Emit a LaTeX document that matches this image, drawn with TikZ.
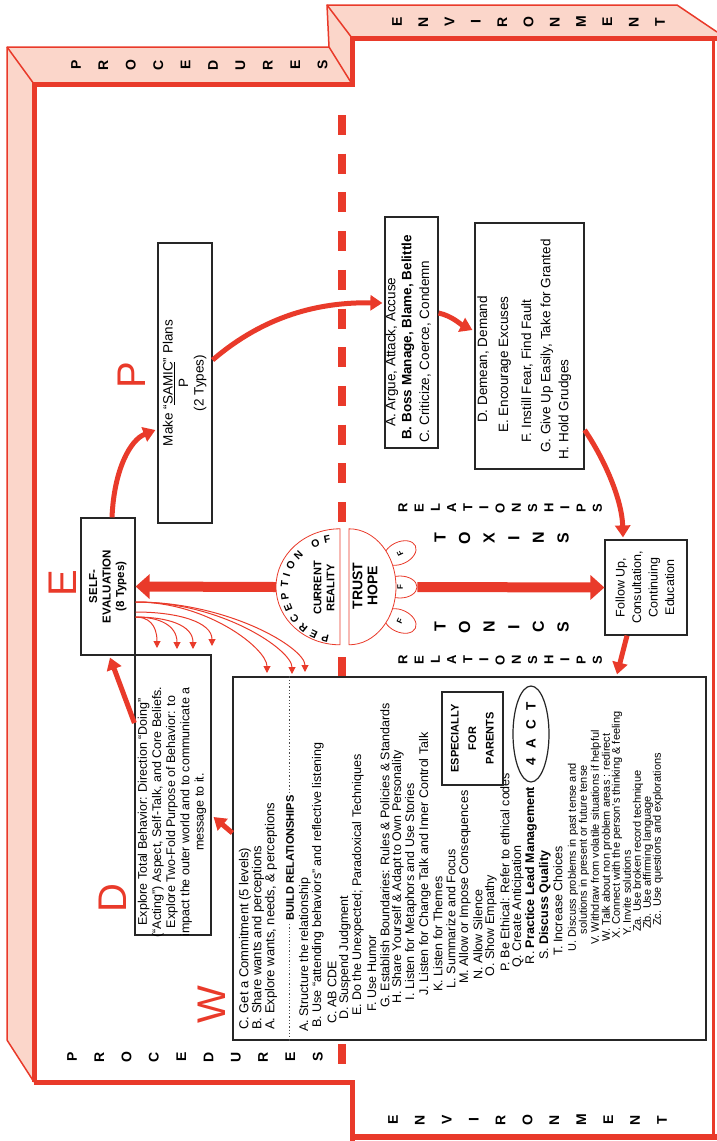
\documentclass[tikz,border=0pt]{standalone}
\usepackage{fontspec}
\usepackage{graphicx}
\setmainfont{Liberation Sans}
\usetikzlibrary{arrows.meta,calc,shapes.geometric,decorations.text}

\definecolor{wred}{RGB}{233,58,42}
\definecolor{wpink}{RGB}{251,214,202}

\def\letterrow[#1](#2:#3:#4:#5)#6{\foreach \l [count=\i from 0] in {#6} {\node[#1] (#2\i) at ({#3+\i*#5},#4) {\l};}}
\def\uptext#1{\rotatebox{90}{\begin{tabular}{@{}c@{}}#1\end{tabular}}}

\tikzset{
	box/.style={draw=black!85, line width=1.2pt, fill=white, inner sep=0pt},
	vtext/.style={rotate=90, inner sep=0pt, align=center},
	bigletter/.style={rotate=90, inner sep=0pt, text=wred, font=\fontsize{40}{40}\selectfont},
	framelabel/.style={rotate=90, inner sep=0pt, font=\bfseries\fontsize{14}{14}\selectfont},
	rellabel/.style={rotate=90, inner sep=0pt, font=\bfseries\fontsize{13}{13}\selectfont},
	toxlabel/.style={rotate=90, inner sep=0pt, font=\bfseries\fontsize{16}{16}\selectfont},
	ringarrow/.style={draw=wred, line width=5pt, -{Triangle[length=12pt,width=15pt]}},
	bigarrow/.style={draw=wred, line width=10pt, -{Triangle[length=14pt,width=24pt]}},
	fanarrow/.style={draw=wred, line width=1pt, -{Triangle[length=7pt,width=7pt]}},
	petal/.style={ellipse, draw=wred, line width=0.8pt, fill=white, minimum width=22pt, minimum height=34pt, inner sep=0pt, font=\bfseries\fontsize{8}{8}\selectfont},
	listline/.style={rotate=90, anchor=west, inner sep=0pt},
}

\begin{document}
\begin{tikzpicture}[x=1pt, y=-1pt]
	%%%%% START %%%%%
	\useasboundingbox (0,0) rectangle (717,1141);
	
	% frame
	\fill[wpink] (7,47) -- (329,47) -- (327,5) -- (677,5) -- (717,32) -- (717,38) -- (352,38) -- (352,84) -- (34,84) -- (34,1082) -- (7,1040) -- cycle;
	\draw[wred, line width=1.5pt, line join=round] (7,1040) -- (7,47) -- (329,47) -- (327,5) -- (677,5) -- (717,32);
	\draw[wred, line width=1.5pt] (7,47) -- (34,84);
	\draw[wred, line width=1.5pt] (329,47) -- (352,84);
	\draw[wred, line width=1.5pt] (327,5) -- (352,38);
	\draw[wred, line width=1.5pt] (7,1040) -- (34,1082);
	\draw[wred, line width=5pt] (34,1082) -- (34,84) -- (352,84) -- (352,38) -- (717,38);
	\draw[wred, line width=5pt] (34,1082) -- (352,1082) -- (352,1141);
	\draw[wred, line width=6pt] (352,1137) -- (717,1137);
	\draw[wred, line width=3pt] (713,38) -- (713,1137);
	
	\letterrow[framelabel](ptop:76:65:27.4){P,R,O,C,E,D,U,R,E,S}
	\letterrow[framelabel](pbot:72:1057:27.3){P,R,O,C,E,D,U,R,E,S}
	\letterrow[framelabel](etop:397:22:26.3){E,N,V,I,R,O,N,M,E,N,T}
	\letterrow[framelabel](ebot:393:1120:26.9){E,N,V,I,R,O,N,M,E,N,T}
	
	\draw[wred, line width=8pt, dash pattern=on 20pt off 18.7pt] (342,115) -- (342,527);
	\draw[wred, line width=8pt, dash pattern=on 20pt off 18.7pt] (342,657) -- (342,1066);
	
	% perception circle
	\node[ellipse, minimum width=128pt, minimum height=116pt, inner sep=0pt] (perc) at (340,587) {};
	\node[petal, rotate=115] (pf1) at (400,553) {F};
	\node[petal, rotate=90] (pf2) at (400,587) {F};
	\node[petal, rotate=65] (pf3) at (400,621) {F};
	\draw[wred, line width=0.8pt, fill=white] ($(perc.north)+(9,0)$) arc[start angle=-90, end angle=90, x radius=47, y radius=58] -- cycle;
	\draw[wred, line width=0.8pt, fill=white] (perc.north) arc[start angle=270, end angle=90, x radius=64, y radius=58] -- cycle;
	\path[decorate, decoration={text along path, text={|\bfseries\fontsize{10.5}{10.5}\selectfont|PERCEPTION OF}, text align={fit to path}}] (329.3,635.3) arc[start angle=100, end angle=262, x radius=50, y radius=47];
	\node[vtext, font=\bfseries\fontsize{11}{13}\selectfont] (cur) at (324,588) {CURRENT\\REALITY};
	\node[vtext, font=\bfseries\fontsize{14}{15}\selectfont] (trust) at (365,586) {TRUST\\HOPE};
	
	\letterrow[rellabel](rtop:403:508:16.2){R,E,L,A,T,I,O,N,S,H,I,P,S}
	\letterrow[toxlabel](tox:440:538:24.6){T,O,X,I,N,S}
	\letterrow[toxlabel](ton:440:627:24.6){T,O,N,I,C,S}
	\letterrow[rellabel](rbot:403:660:16.2){R,E,L,A,T,I,O,N,S,H,I,P,S}
	
	% boxes
	\node[box, minimum width=54pt, minimum height=137pt, font=\bfseries\fontsize{11.5}{13.5}\selectfont] (ebox) at (108,586.5) {\uptext{SELF-\\EVALUATION\\(8 Types)}};
	\node[box, minimum width=54pt, minimum height=280pt, font=\fontsize{13.5}{15.5}\selectfont] (pbox) at (185,383) {\uptext{Make ``\underline{SAMIC}'' Plans\\P\\(2 Types)}};
	\node[box, minimum width=53pt, minimum height=231pt] (tox1) at (411.5,332.5) {};
	\node[box, minimum width=109pt, minimum height=246pt] (tox2) at (529.5,346) {};
	\node[box, minimum width=82pt, minimum height=95pt, font=\fontsize{12.5}{16.5}\selectfont] (fbox) at (646,587.5) {\uptext{Follow Up,\\Consultation,\\Continuing\\Education}};
	\node[box, minimum width=76pt, minimum height=280pt] (dbox) at (173,795) {};
	\node[box, minimum width=473pt, minimum height=363pt] (wbox) at (469.5,858.5) {};
	
	\foreach \x/\y/\t [count=\i] in {392/427/{A. Argue, Attack, Accuse}, 408/440/{\textbf{B. Boss Manage, Blame, Belittle}}, 425/443/{C. Criticize, Coerce, Condemn}}
		\node[listline, font=\fontsize{13.5}{13.5}\selectfont] (ta\i) at (\x,\y) {\t};
	\foreach \x/\y/\t [count=\i] in {483/423/{D. Demean, Demand}, 505/433/{E. Encourage Excuses}, 527/443/{F. Instill Fear, Find Fault}, 547/453/{G. Give Up Easily, Take for Granted}, 565/460/{H. Hold Grudges}}
		\node[listline, font=\fontsize{13.5}{13.5}\selectfont] (tb\i) at (\x,\y) {\t};
	
	\node[vtext, font=\fontsize{12.5}{14.2}\selectfont] (dtext) at (172,812) {Explore Total Behavior: Direction ``Doing''\\(``Acting'') Aspect, Self-Talk, and Core Beliefs.\\Explore Two-Fold Purpose of Behavior: to\\impact the outer world and to communicate a\\message to it.};
	
	\node[bigletter] (bigE) at (63,583) {E};
	\node[bigletter] (bigP) at (132,375) {P};
	\node[bigletter] (bigD) at (113,898) {D};
	\node[bigletter] (bigW) at (212,1005) {W};
	
	% W box contents
	\foreach \x/\t [count=\i] in {245/{C. Get a Commitment (5 levels)}, 258/{B. Share wants and perceptions}, 271/{A. Explore wants, needs, \& perceptions}}
		\node[listline, font=\fontsize{13}{13}\selectfont] (wa\i) at (\x,1030) {\t};
	\draw[black!70, line width=1.3pt, dotted] ($(wbox.north west)+(57,0)$) -- ($(wbox.south west)+(57,0)$);
	\node[vtext, fill=white, inner sep=2pt, font=\bfseries\fontsize{11}{11}\selectfont] (build) at (290,858) {BUILD RELATIONSHIPS};
	\foreach \x/\t [count=\i] in {305/{A. Structure the relationship}, 318/{B. Use ``attending behaviors'' and reflective listening}, 332/{C. AB CDE}, 345/{D. Suspend Judgment}, 358/{E. Do the Unexpected; Paradoxical Techniques}, 372/{F. Use Humor}, 385/{G. Establish Boundaries: Rules \& Policies \& Standards}, 398/{H. Share Yourself \& Adapt to Own Personality}, 411/{I. Listen for Metaphors and Use Stories}, 425/{J. Listen for Change Talk and Inner Control Talk}, 438/{K. Listen for Themes}, 451/{L. Summarize and Focus}, 465/{M. Allow or Impose Consequences}, 478/{N. Allow Silence}, 491/{O. Show Empathy}, 505/{P. Be Ethical: Refer to ethical codes}, 518/{Q. Create Anticipation}, 531/{R. \textbf{Practice Lead Management}}, 545/{S. \textbf{Discuss Quality}}, 558/{T. Increase Choices}}
		\node[listline, font=\fontsize{12.5}{12.5}\selectfont] (wl\i) at (\x,{1032-0.3*(\x-305)}) {\t};
	\foreach \x/\t [count=\i] in {573/{U. Discuss problems in past tense and}, 584/{\hphantom{U. }solutions in present or future tense}, 596/{V. Withdraw from volatile situations if helpful}, 607/{W. Talk about non problem areas : redirect}, 617/{X. Connect with the person's thinking \& feeling}, 627/{Y. Invite solutions}, 638/{Za. Use broken record technique}, 648/{Zb. Use affirming language}, 658/{Zc. Use questions and explorations}}
		\node[listline, font=\fontsize{11}{11}\selectfont] (wu\i) at (\x,{1032-0.3*(\x-305)}) {\t};
	
	\node[box, minimum width=61pt, minimum height=93pt, font=\bfseries\fontsize{11}{17.5}\selectfont] (parents) at (472.5,738.5) {\uptext{ESPECIALLY\\FOR\\PARENTS}};
	\node[ellipse, draw=black!85, line width=1.2pt, fill=white, minimum width=36pt, minimum height=96pt, inner sep=0pt, font=\bfseries\fontsize{13.5}{13.5}\selectfont] (act) at (531,734) {\rotatebox{90}{4\hspace{0.7em}A\hspace{0.7em}C\hspace{0.7em}T}};
	
	% cycle arrows
	\draw[ringarrow] ($(ebox.north)+(4,0)$) .. controls (114,470) and (130,440) .. ($(pbox.west)+(-2,47)$);
	\draw[ringarrow] ($(pbox.east)+(0,-23)$) .. controls (265,315) and (320,302) .. ($(tox1.west)+(-2,-29.5)$);
	\draw[ringarrow] ($(tox1.east)+(0,-19.5)$) .. controls (452,316) and (460,324) .. ($(tox2.west)+(-2,-16)$);
	\draw[ringarrow] ($(tox2.east)+(0,84)$) .. controls (605,460) and (622,500) .. ($(fbox.north)+(-23,-2)$);
	\draw[ringarrow] ($(fbox.south)+(-19,0)$) -- ($(wbox.north)+(147.5,-2)$);
	\draw[ringarrow] ($(wbox.west)+(0,-25.5)$) -- ($(dbox.east)+(2,22)$);
	\draw[ringarrow] ($(dbox.west)+(0,-72)$) -- ($(ebox.south)+(2,2)$);
	
	\draw[bigarrow] (perc.west) -- (ebox.east);
	\draw[bigarrow] (pf2.south) -- (fbox.west);
	
	\foreach \s/\tx/\ty [count=\i] in {30.5/157/648, 30.5/177/649, 30.5/193/649, 25.5/212/646, 15.5/267/673, 15.5/292/674, 15.5/305/672} {
		\coordinate (fan\i) at (\tx,\ty);
		\draw[fanarrow] ($(ebox.east)+(0,\s)$) .. controls ($(ebox.east)+({0.55*(\tx-135)},\s)$) and ($(fan\i)+(0,-24)$) .. (fan\i);
	}
	
	%%%%% END %%%%%
\end{tikzpicture}
\end{document}
